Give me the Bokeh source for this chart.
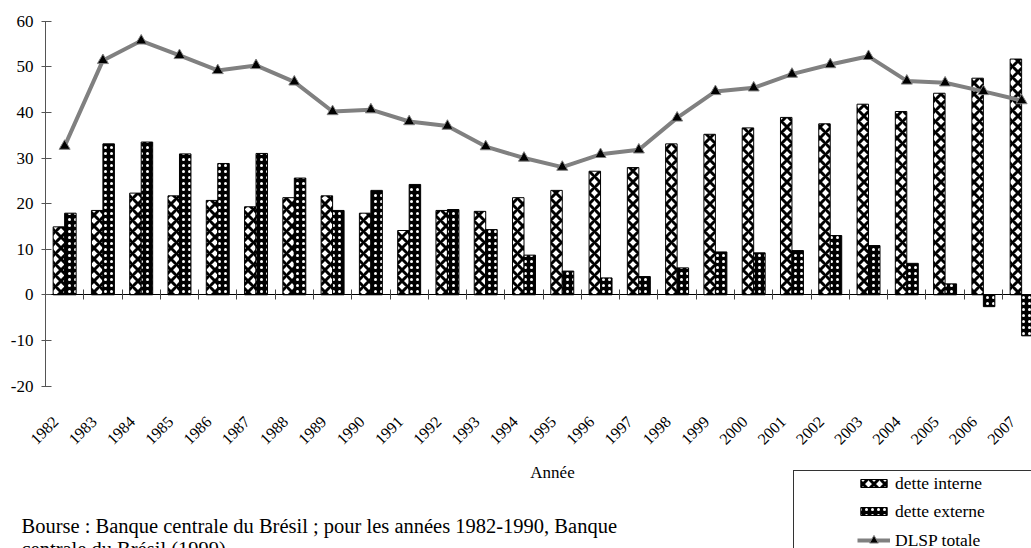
import math
from bokeh.plotting import figure
from bokeh.models import (Range1d, LinearAxis, FixedTicker, Legend, LegendItem,
                          Label, LabelSet, ColumnDataSource, Grid, PolyAnnotation)
from bokeh.core.properties import value
from bokeh.embed import file_html
from bokeh.resources import INLINE

years = [str(y) for y in range(1982, 2008)]
dette_interne = [14.9, 18.5, 22.3, 21.7, 20.7, 19.3, 21.3, 21.7, 17.9, 14.1, 18.5, 18.3, 21.3,
                 22.9, 27.1, 27.9, 33.1, 35.2, 36.6, 38.9, 37.5, 41.8, 40.2, 44.2, 47.5, 51.7]
dette_externe = [17.9, 33.1, 33.5, 30.9, 28.8, 31.0, 25.6, 18.5, 22.9, 24.2, 18.7, 14.3, 8.7,
                 5.2, 3.7, 4.0, 5.9, 9.4, 9.2, 9.7, 13.0, 10.8, 6.9, 2.4, -2.6, -9.0]
dlsp_totale = [32.6, 51.4, 55.7, 52.5, 49.2, 50.3, 46.7, 40.2, 40.6, 38.0, 37.0, 32.5, 30.0,
               28.0, 30.8, 31.8, 38.8, 44.6, 45.4, 48.4, 50.5, 52.3, 46.9, 46.5, 44.6, 42.6]
y_ticks = [-20, -10, 0, 10, 20, 30, 40, 50, 60]
y_tick_labels = ["-20", "-10", "0", "10", "20", "30", "40", "50", "60"]

FONT = "Liberation Serif"
W, H = 1031, 548
n = len(years)
xi = list(range(n))
bw = 0.30

# pixel geometry of the plotting area (within the canvas)
x0_px, cat_px = 45.0, 38.28          # left edge of first category, width of one category
y60_px, unit_px = 20.7, 4.56         # pixel row of 60, pixels per unit
x_start = -0.5 - x0_px / cat_px
x_end = -0.5 + (W - x0_px) / cat_px
y_end = 60 + y60_px / unit_px
y_start = 60 - (H - y60_px) / unit_px

src = ColumnDataSource(dict(
    x=xi,
    xl=[i - bw / 2 for i in xi],
    xr=[i + bw / 2 for i in xi],
    interne=dette_interne,
    externe=dette_externe,
    total=dlsp_totale,
    year=years,
    ybase=[-20] * n,
))

p = figure(width=W, height=H, output_backend="svg", toolbar_location=None,
           x_range=Range1d(x_start, x_end), y_range=Range1d(y_start, y_end),
           min_border_left=0, min_border_right=0, min_border_top=0, min_border_bottom=0,
           x_axis_location=None, y_axis_location=None)
p.outline_line_color = None
p.background_fill_color = "white"
p.border_fill_color = "white"
for g in p.select(type=Grid):
    g.visible = False

yaxis = LinearAxis(fixed_location=-0.5, bounds=(-20, 60),
                   ticker=FixedTicker(ticks=y_ticks),
                   major_label_overrides={t: l for t, l in zip(y_ticks, y_tick_labels)},
                   axis_line_color="#555555", major_tick_line_color="#555555",
                   major_tick_in=6, major_tick_out=4, minor_tick_line_color=None,
                   major_label_text_font=FONT, major_label_text_font_size="17px",
                   major_label_text_color="black", major_label_standoff=8)
p.add_layout(yaxis, "left")

zaxis = LinearAxis(fixed_location=0, bounds=(-0.5, n + 1),
                   ticker=FixedTicker(ticks=[i - 0.5 for i in range(n + 1)]),
                   axis_line_color="black", major_tick_line_color="#444444",
                   major_tick_in=5, major_tick_out=5, minor_tick_line_color=None,
                   major_label_text_font_size="0px", major_label_text_alpha=0)
p.add_layout(zaxis, "below")

# rotated year labels under the plot area
p.add_layout(LabelSet(x="x", y="ybase", text="year", source=src,
                      angle=math.pi / 4, text_align="right", text_baseline="middle",
                      x_offset=-9, y_offset=-33,
                      text_font=value(FONT), text_font_size="16px", text_color="black"))

r_int = p.vbar(x="xl", width=bw, top="interne", bottom=0, source=src,
               fill_color="white", line_color="black", line_width=1,
               hatch_pattern="diagonal_cross", hatch_color="black",
               hatch_scale=11, hatch_weight=3)
r_ext = p.vbar(x="xr", width=bw, top="externe", bottom=0, source=src,
               fill_color="black", line_color="black", line_width=1,
               hatch_pattern="dot", hatch_color="white",
               hatch_scale=6, hatch_weight=1)
r_line = p.line(x="x", y="total", source=src, line_color="#808080", line_width=4)
r_pts = p.scatter(x="x", y="total", source=src, marker="triangle", size=11,
                  fill_color="black", line_color="#808080", line_width=1)

# legend frame: only its left and top edges are visible in the original
box_l, box_t = 793, H - 470
p.add_layout(PolyAnnotation(xs=[box_l - 0.5, box_l + 0.5, box_l + 0.5, box_l - 0.5],
                            ys=[box_t + 0.5, box_t + 0.5, 0, 0],
                            xs_units="screen", ys_units="screen",
                            fill_color="#333333", fill_alpha=1, line_alpha=0))
p.add_layout(PolyAnnotation(xs=[box_l - 0.5, W, W, box_l - 0.5],
                            ys=[box_t + 0.5, box_t + 0.5, box_t - 0.5, box_t - 0.5],
                            xs_units="screen", ys_units="screen",
                            fill_color="#333333", fill_alpha=1, line_alpha=0))

leg_bars = Legend(items=[LegendItem(label=value("dette interne"), renderers=[r_int]),
                         LegendItem(label=value("dette externe"), renderers=[r_ext])],
                  location=(852, 21), orientation="vertical",
                  padding=5, spacing=6, glyph_height=10, glyph_width=33, label_height=22,
                  label_standoff=5, border_line_alpha=0, background_fill_alpha=0,
                  label_text_font=FONT, label_text_font_size="17.5px",
                  label_text_color="black")
p.add_layout(leg_bars, "center")

leg_line = Legend(items=[LegendItem(label=value("DLSP totale"), renderers=[r_line, r_pts])],
                  location=(852, -8), orientation="vertical",
                  padding=5, glyph_height=22, glyph_width=33, label_height=22,
                  label_standoff=5, border_line_alpha=0, background_fill_alpha=0,
                  label_text_font=FONT, label_text_font_size="17.5px",
                  label_text_color="black")
p.add_layout(leg_line, "center")

p.add_layout(Label(x=552, y=H - 472, x_units="screen", y_units="screen", text="Année",
                   text_align="center", text_baseline="alphabetic",
                   text_font=FONT, text_font_size="17px", text_color="black"))
p.add_layout(Label(x=21, y=H - 525, x_units="screen", y_units="screen",
                   text="Bourse : Banque centrale du Brésil ; pour les années 1982-1990, Banque",
                   text_align="left", text_baseline="alphabetic",
                   text_font=FONT, text_font_size="20.5px", text_color="black"))
p.add_layout(Label(x=21, y=H - 548, x_units="screen", y_units="screen",
                   text="centrale du Brésil (1999).",
                   text_align="left", text_baseline="alphabetic",
                   text_font=FONT, text_font_size="20.5px", text_color="black"))

open("out.html", "w").write(file_html(p, INLINE))
